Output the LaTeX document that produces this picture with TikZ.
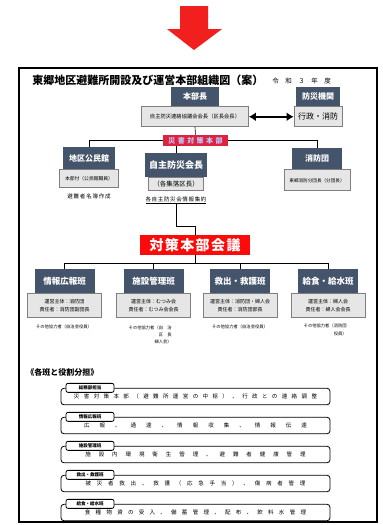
\documentclass[tikz,border=0pt]{standalone}
\usepackage{fontspec}
\setmainfont{Noto Sans CJK JP}
\usepackage{tikz}
\usetikzlibrary{arrows.meta,positioning}
\definecolor{slate}{HTML}{44546A}
\definecolor{subgray}{HTML}{E7E6E6}
\definecolor{subline}{HTML}{7F7F7F}
\definecolor{alarm}{HTML}{F21F1F}
\definecolor{meeting}{HTML}{FF0A0A}
\definecolor{hqred}{HTML}{DE2340}
\definecolor{hqtext}{HTML}{B9CCFF}
\newcommand{\jfs}[1]{\fontsize{#1}{#1}\selectfont}
\tikzset{
  every picture/.style = {
    x = 1pt,
    y = -1pt,
    line width = 0.6pt,
  }
  , % dark title boxes
  head-box/.style = {
    rectangle,
    fill = slate,
    text = white,
    font = \bfseries\jfs{8},
    inner sep = 0pt,
    minimum height = 21
  }
  , % grey boxes under the titles
  sub-box/.style = {
    rectangle,
    fill = subgray,
    draw = subline,
    line width = 0.9pt,
    font = \fontsize{5}{8}\selectfont,
    align = center,
    inner sep = 1pt
  }
  , % free texts
  note-text/.style = {
    font = \jfs{4.3},
    inner sep = 0pt
  }
  , % role list
  role-box/.style = {
    rectangle,
    rounded corners = 3pt,
    draw,
    line width = 0.8pt,
    minimum width = 269,
    minimum height = 16.5,
    inner sep = 0pt
  }
  ,
  role-tab/.style = {
    rectangle,
    rounded corners = 2pt,
    draw,
    fill = white,
    line width = 0.8pt,
    font = \bfseries\jfs{4.5},
    minimum width = 48,
    minimum height = 9,
    inner sep = 2pt
  }
}
\begin{document}
\begin{tikzpicture}
  \useasboundingbox (0,0) rectangle (383,525);
  \fill[alarm] (180,6) -- (208,6) -- (208,29) -- (222,29) -- (194,50) -- (167,29) -- (180,29) -- cycle;
  \draw[line width=1.6pt] (19,68) rectangle (377,522);
  \node[anchor=west, inner sep=0pt, font=\bfseries\jfs{11}] (title) at (32,80) {東郷地区避難所開設及び運営本部組織図（案）};
  \node[anchor=west, inner sep=0pt, font=\jfs{6.5}\addfontfeature{LetterSpace=100}] (year) at (272,81) {令和３年度};

  % top of the chart
  \node[head-box, minimum width=48, minimum height=19] (hq) at (195,96.5) {本部長};
  \node[sub-box, below=0pt of hq, minimum width=107, minimum height=20, font=\jfs{5.3}] (hq-sub) {自主防災連絡協議会会長（区長会長）};
  \node[head-box, minimum width=44, minimum height=19] (bosai) at (318,96.5) {防災機関};
  \node[sub-box, below=0pt of bosai, minimum width=48, minimum height=20, font=\jfs{8}] (bosai-sub) {行政・消防};
  \draw[line width=2.2pt, {Latex[length=7pt,width=9pt]}-{Latex[length=7pt,width=9pt]}] (hq-sub.east) -- (bosai-sub.west);

  \node[rectangle, fill=hqred, text=hqtext, font=\bfseries\jfs{7}\addfontfeature{LetterSpace=35}, minimum width=65, minimum height=11, inner sep=0pt] (saigai) at (195.5,140.5) {災害対策本部};

  \node[head-box, minimum width=52, minimum height=22] (kominkan) at (89,158) {地区公民館};
  \node[sub-box, below=0pt of kominkan, minimum width=59, minimum height=18, font=\jfs{4.8}] (kominkan-sub) {本部付（公民館職員）};
  \node[note-text, font=\jfs{5.5}\addfontfeature{LetterSpace=15}] (kominkan-note) at (89,196) {避難者名簿作成};

  \node[head-box, minimum width=62, minimum height=24, font=\bfseries\jfs{9}] (jishu) at (176,165) {自主防災会長};
  \node[sub-box, below=0pt of jishu, minimum width=55, minimum height=13, font=\jfs{6.5}] (jishu-sub) {（各集落区長）};
  \node[note-text, font=\jfs{5.5}\addfontfeature{LetterSpace=12}] (jishu-note) at (176,200) {\underline{各自主防災会情報集約}};

  \node[head-box, minimum width=50, minimum height=21] (shobo) at (317,158.5) {消防団};
  \node[sub-box, below=0pt of shobo, minimum width=66, minimum height=21, font=\jfs{4.6}] (shobo-sub) {東郷消防分団長（分団長）};

  \draw (hq-sub.south) -- (saigai.north);
  \draw (saigai.west) -| (kominkan.north);
  \draw (saigai.east) -| (shobo.north);
  \draw (saigai.south -| jishu.north) -- (jishu.north);

  % meeting and the four teams
  \node[rectangle, fill=meeting, text=white, font=\bfseries\jfs{14}\addfontfeature{LetterSpace=10}, minimum width=110, minimum height=20, inner sep=0pt] (kaigi) at (195,245) {対策本部会議};
  \draw (jishu-note.south) -- ++(0,22) -| (kaigi.north);

  \foreach \name/\x/\title/\lead/\chief in {
    joho/64.5/情報広報班/消防団/消防団副団長,
    shisetsu/153.5/施設管理班/むつみ会/むつみ会会長,
    kyushutsu/240/救出・救護班/消防団・婦人会/消防団部長,
    kyushoku/328/給食・給水班/婦人会/婦人会会長}
  {
    \node[head-box, minimum width=60, minimum height=24, font=\bfseries\jfs{8.5}] (\name) at (\x,281) {\title};
    \node[sub-box, below=0pt of \name, minimum width=74, minimum height=24] (\name-sub) {運営主体：\lead\\責任者：\chief};
  }
  \draw (kaigi.south) -- ++(0,8) coordinate (bus);
  \draw (joho.north) |- (bus) -| (kyushoku.north);
  \foreach \name in {shisetsu,kyushutsu}
    \draw (bus -| \name.north) -- (\name.north);

  \node[note-text] (joho-note) at (64,327) {その他協力者（自治会役員）};
  \node[note-text, align=right, anchor=north east, font=\fontsize{4.3}{7}\selectfont] (shisetsu-note) at (172,326) {その他協力者（自　治\\区　長\\婦人会）};
  \node[note-text] (kyushutsu-note) at (240,327) {その他協力者（自治会役員）};
  \node[note-text, align=right, anchor=north east, font=\fontsize{4.3}{8}\selectfont] (kyushoku-note) at (347,324) {その他協力者（消防団\\役員）};

  % roles
  \node[anchor=west, inner sep=0pt, font=\bfseries\jfs{8}] (roles) at (26,372) {《各班と役割分担》};
  \foreach \tab/\txt/\ls [count=\i] in {
    総務部担当/災害対策本部（避難所運営の中枢）、行政との連絡調整/80,
    情報広報班/広報、通達、情報収集、情報伝達/182,
    施設管理班/施設内環境衛生管理、避難者健康管理/144,
    救出・救護班/被災者救出、救護（応急手当）、傷病者管理/105,
    給食・給水班/食糧物資の受入、備蓄管理、配布、飲料水管理/96}
  {
    \node[role-box, font=\jfs{5.5}\addfontfeature{LetterSpace=\ls}] (role\i) at (195.5,{396.5+29*(\i-1)}) {\raisebox{-2pt}{\txt}};
    \node[role-tab, anchor=west] (tab\i) at ([xshift=5pt]role\i.north west) {\tab};
  }
\end{tikzpicture}
\end{document}
